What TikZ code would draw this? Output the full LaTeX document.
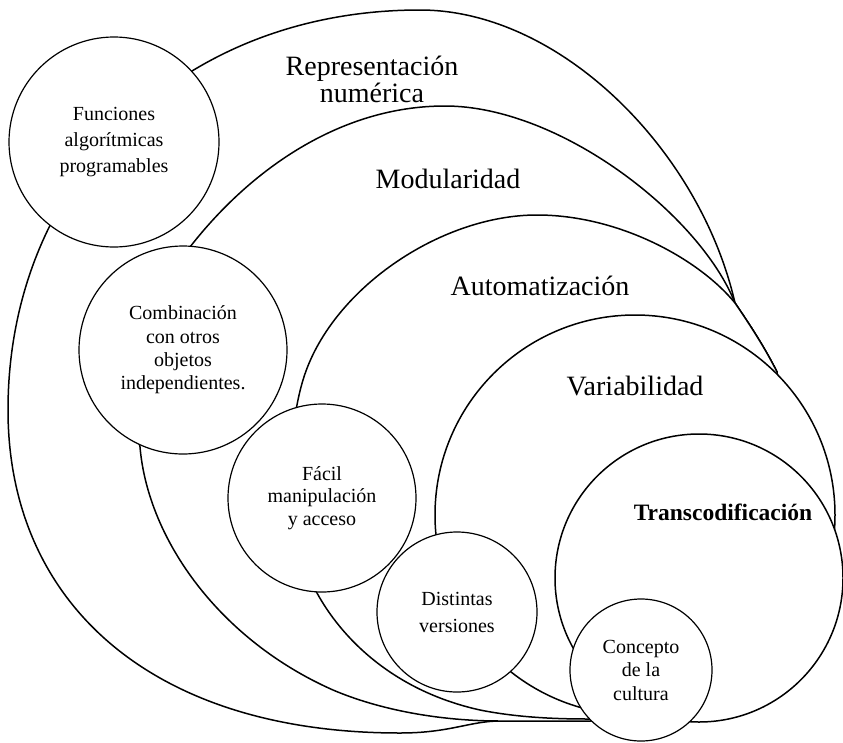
\documentclass[tikz,border=0pt]{standalone}
\usepackage{fontspec}
\setmainfont{Liberation Serif}
\begin{document}
\begin{tikzpicture}[x=1pt,y=-1pt,
  outer/.style={draw=black,line width=1.5pt,fill=white,line join=round},
  ring/.style={circle,draw=black,line width=1.5pt,fill=white,inner sep=0pt},
  sub/.style={circle,draw=black,line width=1.2pt,fill=white,inner sep=0pt,align=center},
  big/.style={font=\fontsize{28}{27}\selectfont,inner sep=0pt,align=center},
  subtxt/.style={font=\fontsize{20}{#1}\selectfont}]
\useasboundingbox[fill=white] (0,0) rectangle (843,742);

% Representación numérica
\path[outer] (420,10) .. controls (180,10) and (8,180) .. (8,410)
  .. controls (8,601) and (149,733) .. (400,733)
  .. controls (450,733) and (470,721) .. (500,721)
  -- (590,721) -- (650,715) -- (790,470) -- (777,372)
  .. controls (765,348) and (750,325) .. (735,303)
  .. controls (700,150) and (560,10) .. (420,10) -- cycle;
% Modularidad
\path[outer] (445,106) .. controls (340,106) and (250,170) .. (190,247)
  .. controls (140,310) and (128,390) .. (140,447)
  .. controls (148,540) and (220,640) .. (333,690)
  .. controls (380,710) and (440,721) .. (500,721)
  -- (590,721) -- (650,715) -- (790,470) -- (777,372)
  .. controls (765,348) and (750,325) .. (735,303)
  .. controls (700,215) and (560,106) .. (445,106) -- cycle;
% Automatización
\path[outer] (537,215) .. controls (440,215) and (330,290) .. (303,380)
  .. controls (285,440) and (285,540) .. (317,593)
  .. controls (340,635) and (390,690) .. (480,710)
  .. controls (520,718) and (560,719) .. (590,719)
  -- (650,715) -- (790,470) -- (777,372)
  .. controls (765,348) and (750,325) .. (735,303)
  .. controls (700,260) and (620,215) .. (537,215) -- cycle;

\node[ring,minimum size=400pt] (var) at (635,515) {};
\node[ring,minimum size=288pt] (trans) at (699,578) {};

\node[big] (rep) at (372,79) {Representación\\numérica};
\node[big,anchor=base] (mod) at (448,188) {Modularidad};
\node[big,anchor=base] (aut) at (540,295) {Automatización};
\node[big,anchor=base] (vtx) at (635,395) {Variabilidad};
\node[inner sep=0pt,anchor=base,font=\fontsize{23.5}{24}\selectfont\bfseries] (ttx) at (723,520) {Transcodificación};

\node[sub,minimum size=210pt,subtxt=26] (fun) at (114,142) {Funciones\\algorítmicas\\programables};
\node[sub,minimum size=208pt,subtxt=23.3] (com) at (183,350) {Combinación\\con otros\\objetos\\independientes.};
\node[sub,minimum size=188pt,subtxt=22.5] (fac) at (322,498) {Fácil\\manipulación\\y acceso};
\node[sub,minimum size=160pt,subtxt=27] (dis) at (457,612) {Distintas\\versiones};
\node[sub,minimum size=142pt,subtxt=23.5] (con) at (641,670) {Concepto\\de la\\cultura};
\end{tikzpicture}
\end{document}
